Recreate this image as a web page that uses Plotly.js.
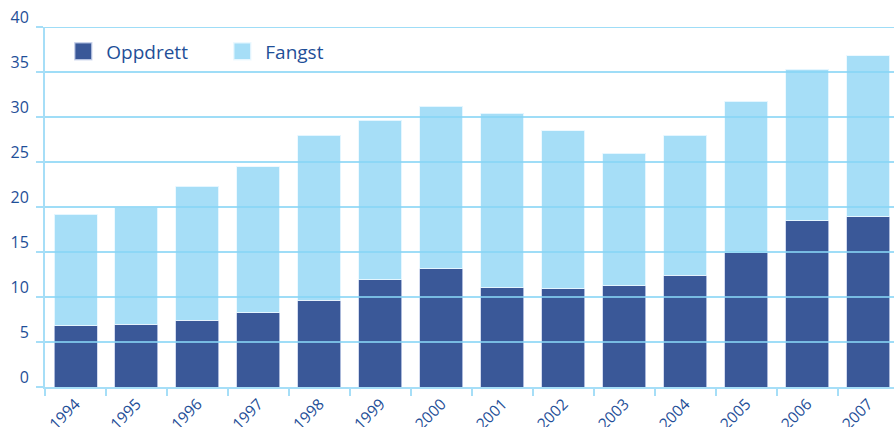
<!DOCTYPE html>
<html>
<head>
<meta charset="utf-8">
<script src="https://cdn.plot.ly/plotly-3.0.1.min.js"></script>
<style>html,body{margin:0;padding:0;background:#fff;}#chart{width:894px;height:427px;}</style>
</head>
<body>
<div id="chart"></div>
<script>
const years = ["1994","1995","1996","1997","1998","1999","2000","2001","2002","2003","2004","2005","2006","2007"];
const oppdrett = [6.8, 7.0, 7.4, 8.25, 9.65, 11.93, 13.15, 11.05, 10.9, 11.25, 12.4, 14.9, 18.5, 18.9];
const fangst = [12.4, 13.0, 14.9, 16.2, 18.3, 17.7, 18.05, 19.35, 17.6, 14.7, 15.6, 16.85, 16.8, 17.9];
const yTicks = [0, 5, 10, 15, 20, 25, 30, 35, 40];

const darkBlue = "#3a5898";
const lightBlue = "#a6def7";
const gridBlue = "#a6def7";
const textBlue = "#1f4f98";

const traces = [
  {type: "bar", name: "Oppdrett", x: years, y: oppdrett,
   marker: {color: darkBlue, line: {color: "rgba(200,210,235,0.8)", width: 1}}},
  {type: "bar", name: "Fangst", x: years, y: fangst,
   marker: {color: lightBlue, line: {color: "rgba(235,248,255,0.9)", width: 1}}}
];

const shapes = yTicks.filter(v => v > 0).map(v => ({
  type: "line", xref: "paper", x0: 0, x1: 1, yref: "y", y0: v, y1: v,
  line: {color: "rgba(135,212,245,0.8)", width: 2}, layer: "above"
}));

const layout = {
  width: 894, height: 427,
  margin: {l: 45, r: 0, t: 27, b: 40, pad: 0},
  paper_bgcolor: "#fff", plot_bgcolor: "#fff",
  barmode: "stack", bargap: 0.295,
  font: {family: "Open Sans, sans-serif", color: textBlue, size: 15},
  showlegend: true,
  legend: {orientation: "h", x: 0.018, y: 0.985, xanchor: "left", yanchor: "top",
           font: {size: 19, color: textBlue}, bgcolor: "rgba(0,0,0,0)",
           itemwidth: 36,
           traceorder: "normal", entrywidth: 108, entrywidthmode: "pixels"},
  xaxis: {type: "category", range: [-0.5, 13.42], tickson: "boundaries",
          ticks: "outside", ticklen: 7, tickwidth: 2, tickcolor: gridBlue,
          showline: true, linecolor: gridBlue, linewidth: 2,
          showgrid: false, tickangle: -45, tickfont: {size: 15.5, color: textBlue},
          fixedrange: true},
  yaxis: {range: [0, 40], tickvals: yTicks, ticktext: yTicks.map(String),
          ticks: "outside", ticklen: 7, tickwidth: 2, tickcolor: gridBlue,
          showline: true, linecolor: gridBlue, linewidth: 2,
          showgrid: false, zeroline: false, ticklabelshift: -10, ticklabelstandoff: 4,
          tickfont: {size: 16, color: textBlue}, fixedrange: true},
  shapes: shapes
};

Plotly.newPlot("chart", traces, layout, {displayModeBar: false, staticPlot: true}).then(gd => {
  gd.querySelectorAll(".legendpoints path").forEach(p => {
    const t = p.getAttribute("transform") || "";
    p.setAttribute("transform", t + " scale(1.42)");
  });
});
</script>
</body>
</html>
